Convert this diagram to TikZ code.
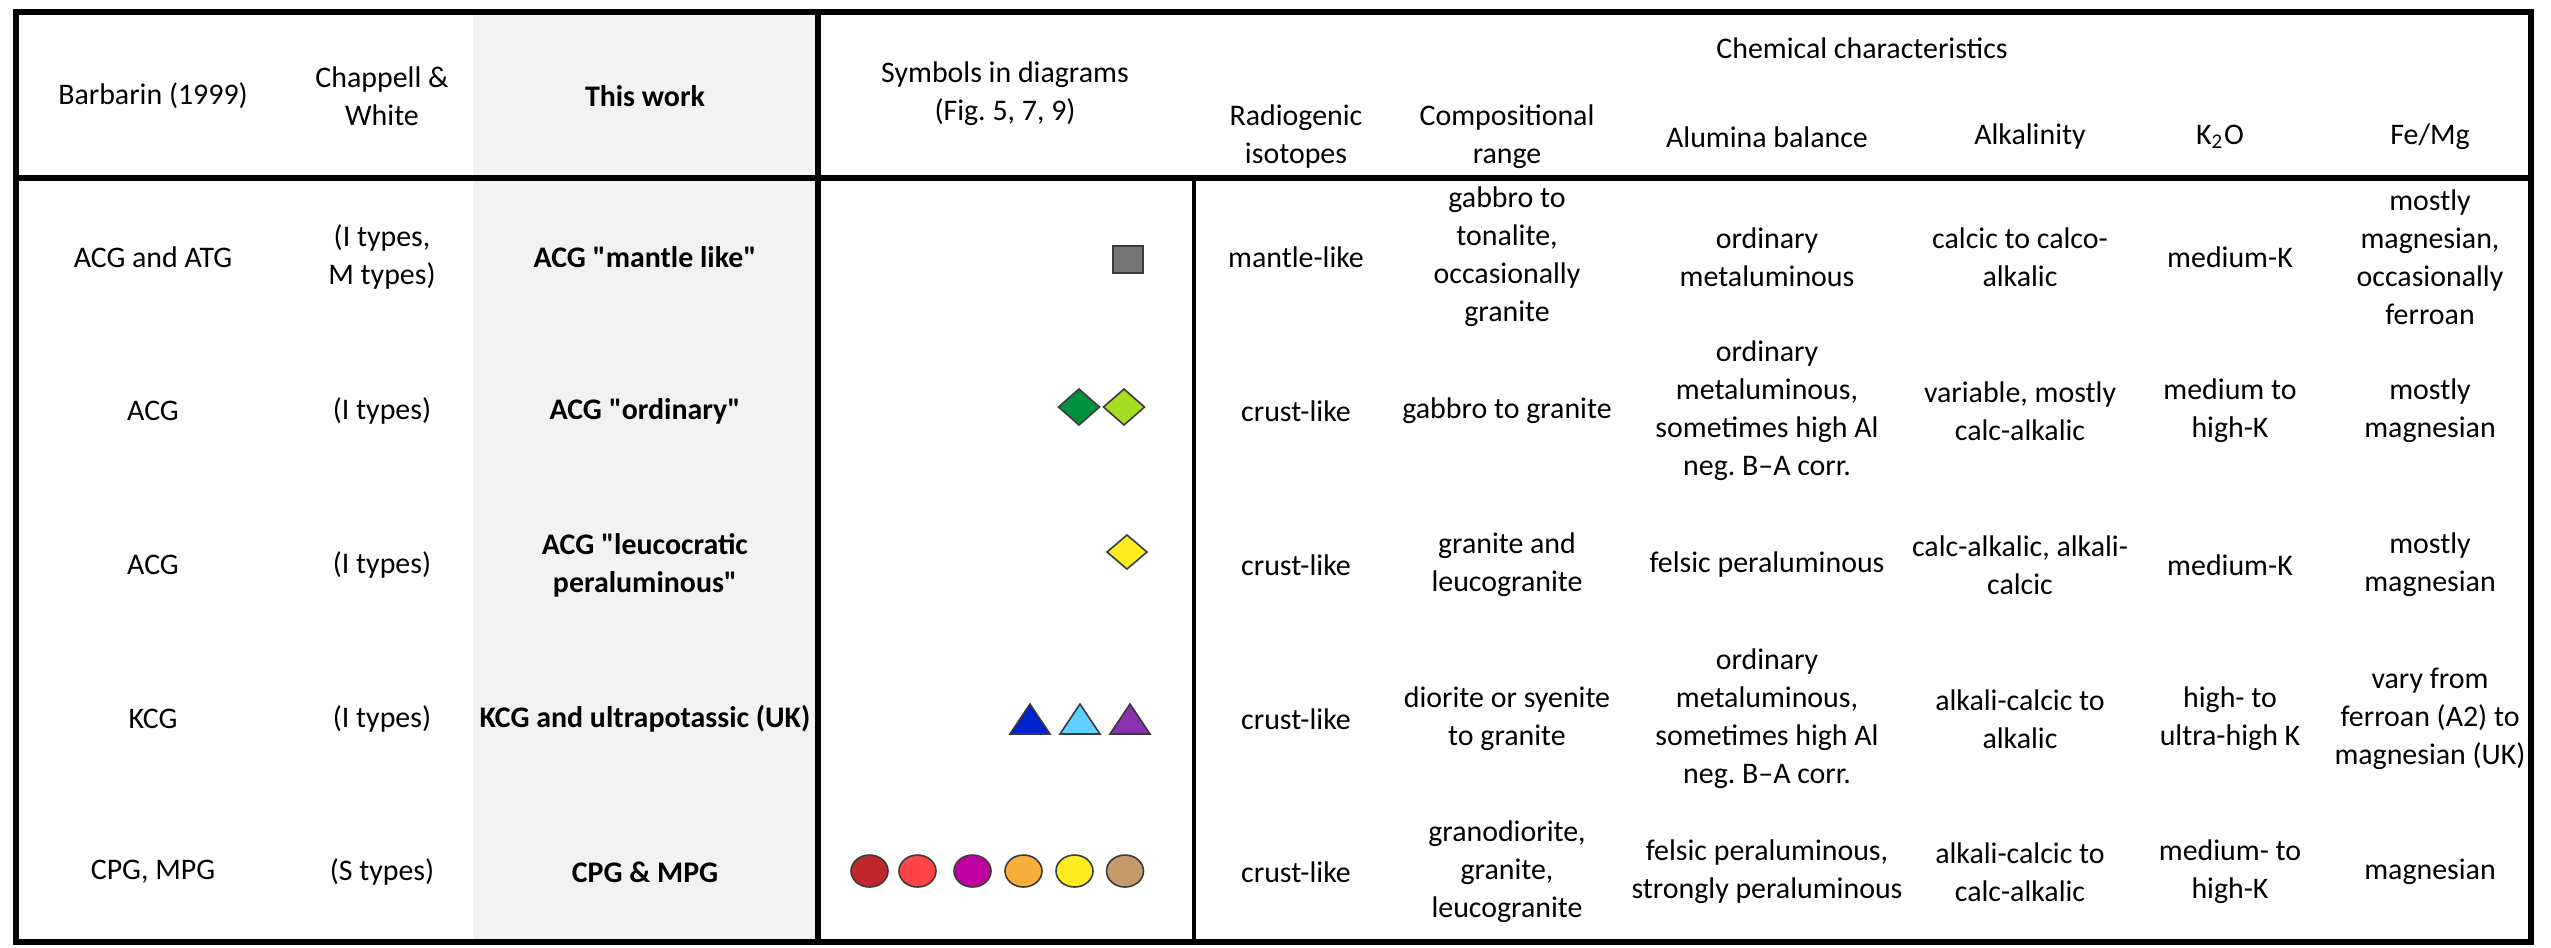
\documentclass[tikz,border=0pt]{standalone}
\usepackage{fontspec}
\setmainfont{Carlito}[Ligatures=TeXOff]
\newcommand{\cellfont}{\fontsize{8.5pt}{10.8pt}\selectfont\frenchspacing}
\definecolor{graycol}{HTML}{F2F2F2}
\definecolor{symedge}{HTML}{3A3A3A}
\definecolor{sqgray}{HTML}{767676}
\definecolor{dkgreen}{HTML}{009140}
\definecolor{ltgreen}{HTML}{A5DE20}
\definecolor{yel}{HTML}{FFEB1F}
\definecolor{blu}{HTML}{0022CC}
\definecolor{ltblu}{HTML}{5FD0FF}
\definecolor{purp}{HTML}{8931B0}
\definecolor{dkred}{HTML}{C0272D}
\definecolor{redd}{HTML}{FF4545}
\definecolor{magent}{HTML}{C000A0}
\definecolor{orng}{HTML}{F9AE3B}
\definecolor{tann}{HTML}{C49A6C}
\begin{document}
\begin{tikzpicture}[x=0.01cm,y=-0.01cm,
  cell/.style={align=center,inner sep=0pt,font=\cellfont},
  boldcell/.style={align=center,inner sep=0pt,font=\cellfont\bfseries},
  sym/.style={draw=symedge,line width=0.45pt},
  mainrule/.style={line width=1.7pt},
  subrule/.style={line width=1.2pt}]
\useasboundingbox (0,0) rectangle (2551,947);
% grey column
\fill[graycol] (473,12) rectangle (816,942);
% rules
\draw[mainrule] (16,12) rectangle (2531,942);
\draw[mainrule] (16,178) -- (2531,178);
\draw[mainrule] (818,12) -- (818,942);
\draw[subrule] (1194,178) -- (1194,942);

% header
\node[cell] (hA) at (153,96) {Barbarin (1999)};
\node[cell] (hB) at (382,96) {Chappell \&\\White};
\node[boldcell] (hC) at (645,96) {This work};
\node[cell] (hD) at (1005,94) {Symbols in diagrams\\(Fig. 5, 7, 9)};
\node[cell] (hChem) at (1862,48) {Chemical characteristics};
\node[cell] (hE) at (1296,137) {Radiogenic\\isotopes};
\node[cell] (hF) at (1507,137) {Compositional\\range};
\node[cell] (hG) at (1767,137) {Alumina balance};
\node[cell] (hH) at (2030,137) {Alkalinity};
\node[cell] (hI) at (2220,137) {K\textsubscript{2}O};
\node[cell] (hJ) at (2430,137) {Fe/Mg};

% row 1
\node[cell] (a1) at (153,257) {ACG and ATG};
\node[cell] (b1) at (382,257) {(I types,\\M types)};
\node[boldcell] (c1) at (645,257) {ACG "mantle like"};
\node[cell] (e1) at (1296,257) {mantle-like};
\node[cell] (f1) at (1507,257) {gabbro to\\tonalite,\\occasionally\\granite};
\node[cell] (g1) at (1767,257) {ordinary\\metaluminous};
\node[cell] (h1) at (2020,257) {calcic to calco-\\alkalic};
\node[cell] (i1) at (2230,257) {medium-K};
\node[cell] (j1) at (2430,257) {mostly\\magnesian,\\occasionally\\ferroan};

% row 2
\node[cell] (a2) at (153,411) {ACG};
\node[cell] (b2) at (382,411) {(I types)};
\node[boldcell] (c2) at (645,411) {ACG "ordinary"};
\node[cell] (e2) at (1296,411) {crust-like};
\node[cell] (f2) at (1507,411) {gabbro to granite};
\node[cell] (g2) at (1767,411) {ordinary\\metaluminous,\\sometimes high Al\\neg. B–A corr.};
\node[cell] (h2) at (2020,411) {variable, mostly\\calc-alkalic};
\node[cell] (i2) at (2230,411) {medium to\\high-K};
\node[cell] (j2) at (2430,411) {mostly\\magnesian};

% row 3
\node[cell] (a3) at (153,565) {ACG};
\node[cell] (b3) at (382,565) {(I types)};
\node[boldcell] (c3) at (645,565) {ACG "leucocratic\\peraluminous"};
\node[cell] (e3) at (1296,565) {crust-like};
\node[cell] (f3) at (1507,565) {granite and\\leucogranite};
\node[cell] (g3) at (1767,565) {felsic peraluminous};
\node[cell] (h3) at (2020,565) {calc-alkalic, alkali-\\calcic};
\node[cell] (i3) at (2230,565) {medium-K};
\node[cell] (j3) at (2430,565) {mostly\\magnesian};

% row 4
\node[cell] (a4) at (153,719) {KCG};
\node[cell] (b4) at (382,719) {(I types)};
\node[boldcell] (c4) at (645,719) {KCG and ultrapotassic (UK)};
\node[cell] (e4) at (1296,719) {crust-like};
\node[cell] (f4) at (1507,719) {diorite or syenite\\to granite};
\node[cell] (g4) at (1767,719) {ordinary\\metaluminous,\\sometimes high Al\\neg. B–A corr.};
\node[cell] (h4) at (2020,719) {alkali-calcic to\\alkalic};
\node[cell] (i4) at (2230,719) {high- to\\ultra-high K};
\node[cell] (j4) at (2430,719) {vary from\\ferroan (A2) to\\magnesian (UK)};

% row 5
\node[cell] (a5) at (153,872) {CPG, MPG};
\node[cell] (b5) at (382,872) {(S types)};
\node[boldcell] (c5) at (645,872) {CPG \& MPG};
\node[cell] (e5) at (1296,872) {crust-like};
\node[cell] (f5) at (1507,872) {granodiorite,\\granite,\\leucogranite};
\node[cell] (g5) at (1767,872) {felsic peraluminous,\\strongly peraluminous};
\node[cell] (h5) at (2020,872) {alkali-calcic to\\calc-alkalic};
\node[cell] (i5) at (2230,872) {medium- to\\high-K};
\node[cell] (j5) at (2430,872) {magnesian};

% symbols
\filldraw[sym,fill=sqgray] (1113,246) rectangle (1143,273);
\filldraw[sym,fill=dkgreen] (1079,389) -- (1099.5,407) -- (1079,425) -- (1058.5,407) -- cycle;
\filldraw[sym,fill=ltgreen] (1124,389) -- (1144.5,407) -- (1124,425) -- (1103.5,407) -- cycle;
\filldraw[sym,fill=yel] (1127,535) -- (1147,552) -- (1127,569) -- (1107,552) -- cycle;
\filldraw[sym,fill=blu] (1010,734) -- (1030,704) -- (1050,734) -- cycle;
\filldraw[sym,fill=ltblu] (1060,734) -- (1080,704) -- (1100,734) -- cycle;
\filldraw[sym,fill=purp] (1110,734) -- (1130,704) -- (1150,734) -- cycle;
\filldraw[sym,fill=dkred] (869.5,871) ellipse [x radius=18.5, y radius=16];
\filldraw[sym,fill=redd] (917.5,871) ellipse [x radius=18.5, y radius=16];
\filldraw[sym,fill=magent] (972.5,871) ellipse [x radius=18.5, y radius=16];
\filldraw[sym,fill=orng] (1023.5,871) ellipse [x radius=18.5, y radius=16];
\filldraw[sym,fill=yel] (1074.5,871) ellipse [x radius=18.5, y radius=16];
\filldraw[sym,fill=tann] (1125,871) ellipse [x radius=18.5, y radius=16];
\end{tikzpicture}
\end{document}
